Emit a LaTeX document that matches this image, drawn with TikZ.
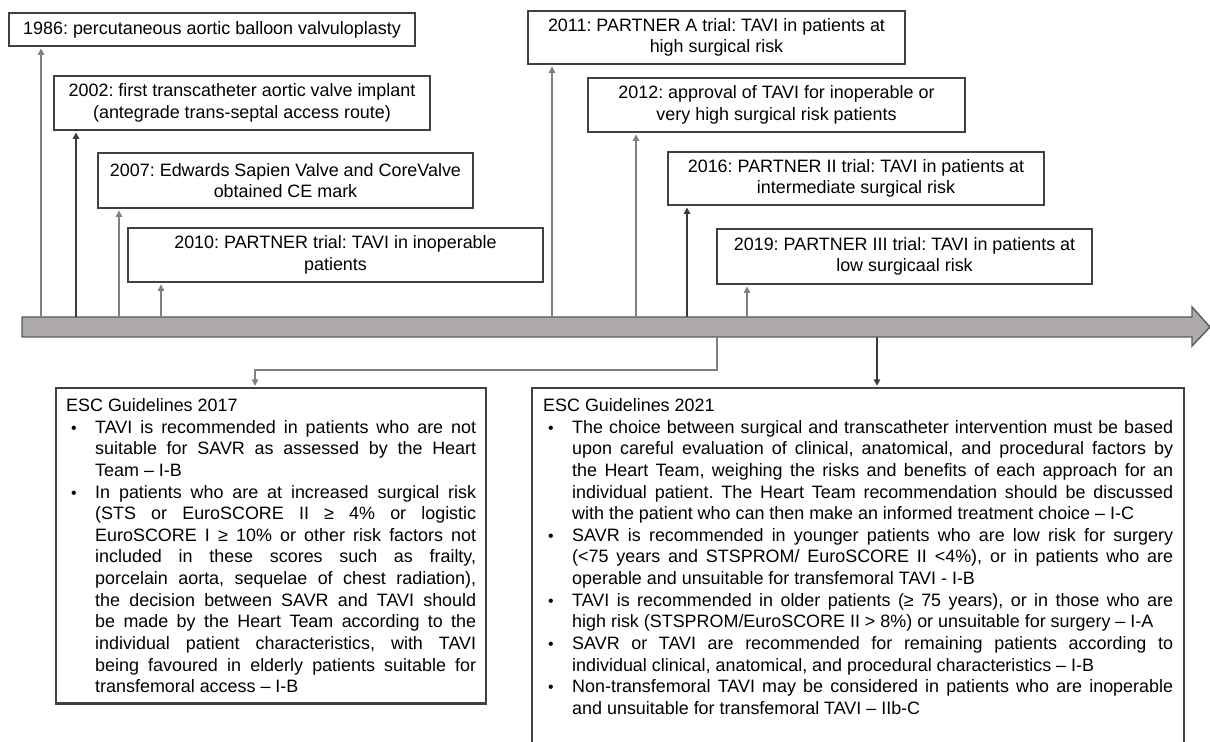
\documentclass[tikz,border=0pt]{standalone}
\usepackage{fontspec}
\setmainfont{Liberation Sans}
\usetikzlibrary{arrows.meta, positioning}

\definecolor{boxgray}{RGB}{64,64,64}
\definecolor{linegray}{RGB}{128,128,128}
\definecolor{linedark}{RGB}{60,60,60}
\definecolor{barfill}{RGB}{174,170,169}
\definecolor{baredge}{RGB}{90,90,90}

\newcommand{\txtfont}{\fontsize{10.2}{12.3}\selectfont\frenchspacing}
\newcommand{\gitem}{\par\noindent\hangindent=0.58cm\hangafter=1\makebox[0.58cm][l]{\hspace{0.1cm}{\small\textbullet}}}

\begin{document}
\begin{tikzpicture}[x=0.02cm, y=-0.02cm, >={Triangle[length=3.6pt,width=3.6pt]},
  eventbox/.style={draw=boxgray, line width=1.4pt, fill=white, align=center, inner sep=0pt, font=\txtfont},
  guidebox/.style={draw=boxgray, line width=1.4pt, fill=white, anchor=north west, align=justify, inner xsep=0.2cm, inner ysep=0.21cm, font=\txtfont},
  riser/.style={->, draw=linegray, line width=0.8pt, shorten >=0.7pt},
  riserdark/.style={riser, draw=linedark}]
  \useasboundingbox (0,0) rectangle (1210,742);
  \tolerance=9999 \hyphenpenalty=10000
  % time bar
  \draw[fill=barfill, draw=baredge, line width=0.8pt]
    (22,317) -- (1192,317) -- (1192,307) -- (1210,327) -- (1192,346) -- (1192,337) -- (22,337) -- cycle;
  % milestones
  \node[eventbox, minimum width=8.12cm, minimum height=0.66cm] (b1986) at (212,29.5) {1986: percutaneous aortic balloon valvuloplasty};
  \node[eventbox, minimum width=7.52cm, minimum height=1.08cm] (b2002) at (242,103) {2002: first transcatheter aortic valve implant\\(antegrade trans-septal access route)};
  \node[eventbox, minimum width=7.5cm, minimum height=1.1cm] (b2007) at (285.5,180.5) {2007: Edwards Sapien Valve and CoreValve\\obtained CE mark};
  \node[eventbox, minimum width=8.3cm, minimum height=1.08cm] (b2010) at (335.5,255) {2010: PARTNER trial: TAVI in inoperable\\patients};
  \node[eventbox, minimum width=7.54cm, minimum height=1.06cm] (b2011) at (716.5,37.5) {2011: PARTNER A trial: TAVI in patients at\\high surgical risk};
  \node[eventbox, minimum width=7.54cm, minimum height=1.08cm] (b2012) at (776.5,105) {2012: approval of TAVI for inoperable or\\very high surgical risk patients};
  \node[eventbox, minimum width=7.52cm, minimum height=1.06cm] (b2016) at (856,178.5) {2016: PARTNER II trial: TAVI in patients at\\intermediate surgical risk};
  \node[eventbox, minimum width=7.5cm, minimum height=1.1cm] (b2019) at (904.5,256.5) {2019: PARTNER III trial: TAVI in patients at\\low surgicaal risk};
  % points on the bar
  \coordinate (p1986) at (41,317);
  \coordinate (p2002) at (76,317);
  \coordinate (p2007) at (119,317);
  \coordinate (p2010) at (161,317);
  \coordinate (p2011) at (552,317);
  \coordinate (p2012) at (636,317);
  \coordinate (p2016) at (687,317);
  \coordinate (p2019) at (747,317);
  \draw[riser] (p1986) -- (p1986 |- b1986.south);
  \draw[riserdark] (p2002) -- (p2002 |- b2002.south);
  \draw[riser] (p2007) -- (p2007 |- b2007.south);
  \draw[riser] (p2010) -- (p2010 |- b2010.south);
  \draw[riser] (p2011) -- (p2011 |- b2011.south);
  \draw[riser] (p2012) -- (p2012 |- b2012.south);
  \draw[riserdark] (p2016) -- (p2016 |- b2016.south);
  \draw[riser] (p2019) -- (p2019 |- b2019.south);
  % guidelines
  \node[guidebox, text width=8.2cm] (g2017) at (55,387) {%
    ESC Guidelines 2017
    \gitem TAVI is recommended in patients who are not\linebreak
      suitable for SAVR as assessed by the Heart\linebreak
      Team – I-B
    \gitem In patients who are at increased surgical risk\linebreak
      (STS or EuroSCORE II ≥ 4\% or logistic\linebreak
      EuroSCORE I ≥ 10\% or other risk factors not\linebreak
      included in these scores such as frailty,\linebreak
      porcelain aorta, sequelae of chest radiation),\linebreak
      the decision between SAVR and TAVI should\linebreak
      be made by the Heart Team according to the\linebreak
      individual patient characteristics, with TAVI\linebreak
      being favoured in elderly patients suitable for\linebreak
      transfemoral access – I-B\par};
  \node[guidebox, inner xsep=0.22cm, text width=12.6cm] (g2021) at (531,387) {%
    ESC Guidelines 2021
    \gitem The choice between surgical and transcatheter intervention must be based\linebreak
      upon careful evaluation of clinical, anatomical, and procedural factors by\linebreak
      the Heart Team, weighing the risks and benefits of each approach for an\linebreak
      individual patient. The Heart Team recommendation should be discussed\linebreak
      with the patient who can then make an informed treatment choice – I-C
    \gitem SAVR is recommended in younger patients who are low risk for surgery\linebreak
      (<75 years and STSPROM/ EuroSCORE II <4\%), or in patients who are\linebreak
      operable and unsuitable for transfemoral TAVI - I-B
    \gitem TAVI is recommended in older patients (≥ 75 years), or in those who are\linebreak
      high risk (STSPROM/EuroSCORE II > 8\%) or unsuitable for surgery – I-A
    \gitem SAVR or TAVI are recommended for remaining patients according to\linebreak
      individual clinical, anatomical, and procedural characteristics – I-B
    \gitem Non-transfemoral TAVI may be considered in patients who are inoperable\linebreak
      and unsuitable for transfemoral TAVI – IIb-C\par\noindent\rule{0pt}{1.2cm}};
  % links down to the guidelines
  \coordinate (q2017) at (717,337);
  \coordinate (k2017) at (255,370);
  \coordinate (q2021) at (877,337);
  \draw[riser] (q2017) |- (k2017) -- (k2017 |- g2017.north);
  \draw[riserdark] (q2021) -- (q2021 |- g2021.north);
\end{tikzpicture}
\end{document}
